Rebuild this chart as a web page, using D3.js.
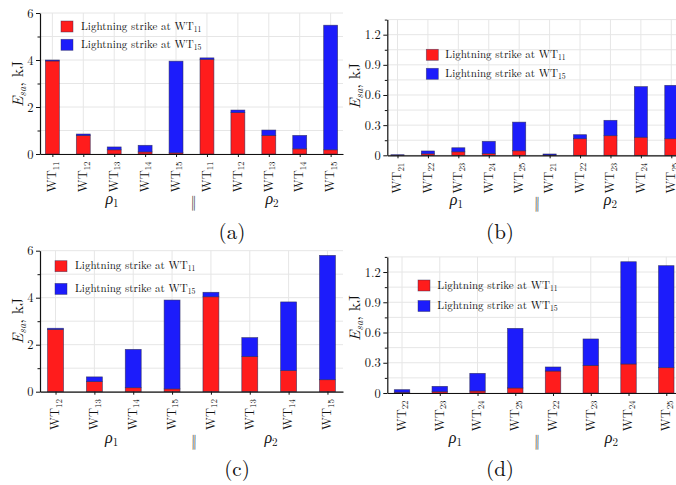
<!DOCTYPE html>
<html><head><meta charset="utf-8">
<script src="https://cdn.jsdelivr.net/npm/d3@7"></script>
<style>
body{margin:0;background:#fff}
svg{display:block}
</style>
</head><body>
<svg id="chart" width="676" height="485"></svg>
<script>
// ---------------- data ----------------
const catsA = ["WT11","WT12","WT13","WT14","WT15","WT11","WT12","WT13","WT14","WT15"];
const redA  = [3.96,0.79,0.18,0.09,0.05,4.03,1.76,0.79,0.22,0.18];
const blueA = [0.04,0.06,0.12,0.28,3.90,0.06,0.11,0.23,0.57,5.30];

const catsB = ["WT21","WT22","WT23","WT24","WT25","WT21","WT22","WT23","WT24","WT25"];
const redB  = [0.002,0.015,0.035,0.017,0.045,0.003,0.165,0.195,0.180,0.165];
const blueB = [0.003,0.028,0.040,0.122,0.285,0.010,0.040,0.153,0.503,0.531];

const catsC = ["WT12","WT13","WT14","WT15","WT12","WT13","WT14","WT15"];
const redC  = [2.65,0.43,0.17,0.12,4.04,1.50,0.90,0.51];
const blueC = [0.05,0.20,1.63,3.78,0.19,0.80,2.92,5.29];

const catsD = ["WT22","WT23","WT24","WT25","WT22","WT23","WT24","WT25"];
const redD  = [0.008,0.013,0.020,0.050,0.218,0.274,0.288,0.251];
const blueD = [0.025,0.053,0.175,0.591,0.040,0.262,1.014,1.012];

const yTicksBig   = [0, 2, 4, 6];
const yTickLabBig = ["0","2","4","6"];
const yTicksSmall   = [0, 0.3, 0.6, 0.9, 1.2];
const yTickLabSmall = ["0","0.3","0.6","0.9","1.2"];

const legendSub = ["11","15"];
const legendPrefix = "Lightning strike at WT";
const panelLabels = ["(a)","(b)","(c)","(d)"];
const groupSubs = ["1","2"];

// ---------------- layout ----------------
const FONT = '"Latin Modern Roman", "Liberation Serif", "DejaVu Serif"';
const RED = "#ff1c1c", BLUE = "#1c1cfb";
const svg = d3.select("#chart");

const panels = [
  {cats:catsA, red:redA, blue:blueA, ymax:6, ticks:yTicksBig, tickLab:yTickLabBig, minor:1,
   left:40, right:343, top:13, bottom:154, pad:0.4, bw:0.45,
   ylab:[18,84], leg:[61,21,81], legGap:18.3, grp:[112,193.5,272,204], lab:[232,239]},
  {cats:catsB, red:redB, blue:blueB, ymax:1.35, ticks:yTicksSmall, tickLab:yTickLabSmall, minor:0.15,
   left:387.3, right:681.5, top:19.6, bottom:155.3, pad:0.335, bw:0.43,
   ylab:[355,86], leg:[426.3,49.3,445.3], legGap:19, grp:[456.3,537,610.3,205], lab:[500,239]},
  {cats:catsC, red:redC, blue:blueC, ymax:6, ticks:yTicksBig, tickLab:yTickLabBig, minor:1,
   left:40, right:343, top:250.7, bottom:391.7, pad:0.4, bw:0.41,
   ylab:[18,321], leg:[55,260.7,75], legGap:22.7, grp:[111.7,194,271,443], lab:[237,476]},
  {cats:catsD, red:redD, blue:blueD, ymax:1.35, ticks:yTicksSmall, tickLab:yTickLabSmall, minor:0.15,
   left:387.3, right:681, top:256.9, bottom:393, pad:0.39, bw:0.41,
   ylab:[355,318], leg:[418,280,437.3], legGap:20.5, grp:[455.3,537,611.3,443], lab:[500,476]}
];

function T(sel){ return sel.style("font-family", FONT).attr("fill", "#111"); }
function subText(sel, main, sub, subSize, dy){
  sel.append("tspan").text(main);
  sel.append("tspan").attr("font-size", subSize).attr("dy", dy).text(sub);
}

panels.forEach((p, pi) => {
  const g = svg.append("g");
  const n = p.cats.length;
  const x = d3.scalePoint().domain(d3.range(n)).range([p.left, p.right]).padding(p.pad);
  const y = d3.scaleLinear().domain([0, p.ymax]).range([p.bottom, p.top]);
  const bw = x.step() * p.bw;

  const minorVals = d3.range(0, p.ymax + 1e-9, p.minor).map(v => +v.toFixed(4));
  g.append("g").selectAll("line").data(minorVals).join("line")
    .attr("x1", p.left).attr("x2", p.right)
    .attr("y1", d => y(d)).attr("y2", d => y(d))
    .attr("stroke", "#e6e6e6").attr("stroke-width", 1);
  g.append("g").selectAll("line").data(d3.range(n)).join("line")
    .attr("x1", i => x(i)).attr("x2", i => x(i))
    .attr("y1", p.bottom).attr("y2", p.top)
    .attr("stroke", "#e6e6e6").attr("stroke-width", 1);

  const rows = d3.range(n).map(i => ({i, red:p.red[i], blue:p.blue[i]}));
  const stack = d3.stack().keys(["red","blue"])(rows);
  const colors = {red:RED, blue:BLUE};
  stack.forEach(layer => {
    g.append("g").selectAll("rect").data(layer).join("rect")
      .attr("x", d => x(d.data.i) - bw/2)
      .attr("width", bw)
      .attr("y", d => y(d[1]))
      .attr("height", d => Math.max(0, y(d[0]) - y(d[1])))
      .attr("fill", colors[layer.key])
      .attr("stroke", "#2a2a55").attr("stroke-opacity", 0.75).attr("stroke-width", 0.7);
  });

  const minorOnly = minorVals.filter(v => !p.ticks.some(t => Math.abs(t - v) < 1e-6));
  g.append("g").attr("transform", `translate(${p.left},0)`)
    .call(d3.axisLeft(y).tickValues(minorOnly).tickSize(2.5).tickSizeOuter(0).tickFormat(""))
    .call(s => s.select(".domain").remove())
    .call(s => s.selectAll("line").attr("stroke", "#111"));
  g.append("g").attr("transform", `translate(${p.left},0)`)
    .call(d3.axisLeft(y).tickValues(p.ticks).tickSize(4).tickSizeOuter(0)
      .tickFormat((d, k) => p.tickLab[k]))
    .call(s => s.select(".domain").attr("stroke", "#111").attr("stroke-width", 1.2))
    .call(s => s.selectAll("line").attr("stroke", "#111"))
    .call(s => T(s.selectAll("text")).attr("font-size", 12.5).attr("x", -6.5));

  g.append("g").attr("transform", `translate(0,${p.bottom})`)
    .call(d3.axisBottom(x).tickSize(3).tickSizeOuter(0).tickFormat(""))
    .call(s => s.select(".domain").attr("stroke", "#111").attr("stroke-width", 1.2))
    .call(s => s.selectAll("line").attr("stroke", "#111"));

  T(g.append("g").selectAll("text").data(d3.range(n)).join("text"))
    .attr("transform", i => `translate(${x(i)},${p.bottom + 7.5}) rotate(-90)`)
    .attr("text-anchor", "end").attr("dy", "0.3em").attr("font-size", 12.5)
    .each(function(i){
      const lab = p.cats[i];
      subText(d3.select(this), lab.slice(0,2), lab.slice(2), 8.8, 2.5);
    });

  const yl = T(g.append("text"))
    .attr("transform", `translate(${p.ylab[0]},${p.ylab[1]}) rotate(-90)`)
    .attr("text-anchor", "middle").attr("dy", "0.3em").attr("font-size", 15.5);
  yl.append("tspan").attr("font-style", "italic").text("E");
  yl.append("tspan").attr("font-style", "italic").attr("font-size", 10.5).attr("dy", 3).text("sa");
  yl.append("tspan").attr("dy", -3).text(", kJ");

  [0, 2].forEach((k, gi) => {
    const t = T(g.append("text")).attr("x", p.grp[k]).attr("y", p.grp[3])
      .attr("text-anchor", "middle").attr("font-size", 16);
    t.append("tspan").attr("font-style", "italic").text("ρ");
    t.append("tspan").attr("font-size", 11).attr("dy", 3).text(groupSubs[gi]);
  });
  // separator: drawn with a tiny rotation so it is rendered with grey anti-aliasing
  const sepY = p.grp[3] + 3, sepC = sepY - 0.25 * 15;
  T(g.append("text")).attr("x", p.grp[1]).attr("y", sepY)
    .attr("transform", `rotate(0.6,${p.grp[1]},${sepC})`)
    .attr("text-anchor", "middle").attr("font-size", 15)
    .attr("fill", "#333")
    .text("‖");

  legendSub.forEach((s, k) => {
    const ly = p.leg[1] + k * p.legGap;
    g.append("rect").attr("x", p.leg[0]).attr("y", ly).attr("width", 12).attr("height", 11)
      .attr("fill", k === 0 ? RED : BLUE)
      .attr("stroke", "#2a2a55").attr("stroke-opacity", 0.6).attr("stroke-width", 0.7);
    const t = T(g.append("text")).attr("x", p.leg[2]).attr("y", ly + 8.5).attr("font-size", 11);
    subText(t, legendPrefix, s, 7.7, 2.2);
  });

  T(svg.append("text")).attr("x", p.lab[0]).attr("y", p.lab[1])
    .attr("text-anchor", "middle").attr("font-size", 21).text(panelLabels[pi]);
});
</script>
</body></html>
